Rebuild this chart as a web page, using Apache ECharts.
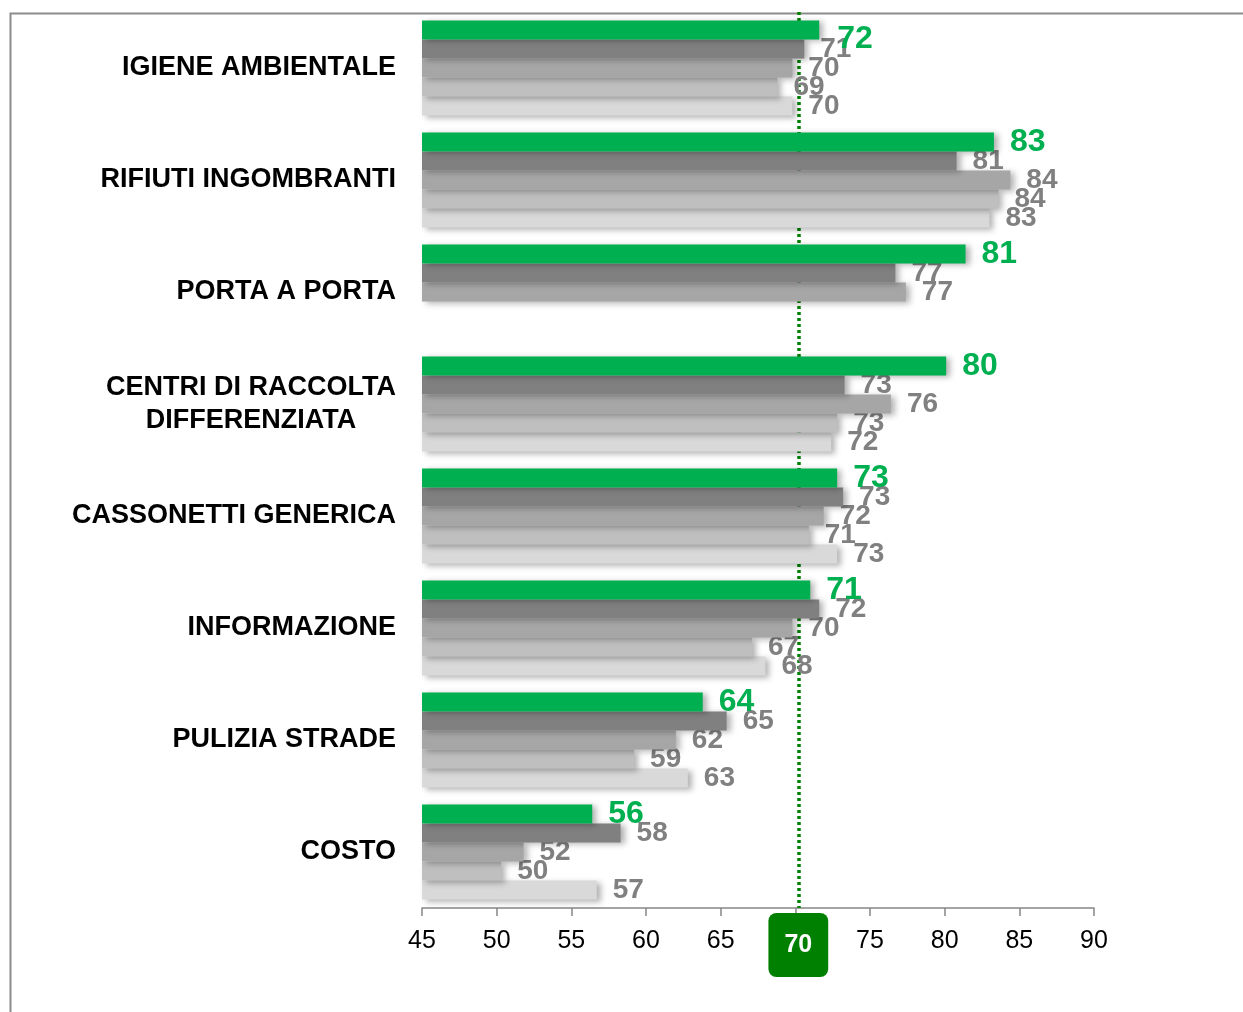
<!DOCTYPE html>
<html>
<head>
<meta charset="utf-8">
<script src="https://cdn.jsdelivr.net/npm/echarts@6/dist/echarts.min.js"></script>
<style>
  html, body { margin: 0; padding: 0; background: #ffffff; }
  #chart { width: 1243px; height: 1012px; }
</style>
</head>
<body>
<div id="chart"></div>
<script>
// ---- data ----
const categories = [
  'IGIENE AMBIENTALE',
  'RIFIUTI INGOMBRANTI',
  'PORTA A PORTA',
  'CENTRI DI RACCOLTA\nDIFFERENZIATA',
  'CASSONETTI GENERICA',
  'INFORMAZIONE',
  'PULIZIA STRADE',
  'COSTO'
];
const seriesNames = ['S1', 'S2', 'S3', 'S4', 'S5'];
const values1 = [71.6, 83.3, 81.4, 80.1, 72.8, 71.0, 63.8, 56.4];   // green
const values2 = [70.6, 80.8, 76.7, 73.3, 73.2, 71.6, 65.4, 58.3];   // dark gray
const values3 = [69.8, 84.4, 77.4, 76.4, 71.9, 69.8, 62.0, 51.8];   // gray
const values4 = [68.8, 83.6, null, 72.8, 70.9, 67.1, 59.2, 50.3];   // light gray
const values5 = [69.8, 83.0, null, 72.4, 72.8, 68.0, 62.8, 56.7];   // lightest gray
const xTicks = { min: 45, max: 90, interval: 5 };
const refValue = 70.2;
const refLabel = '70';

const FONT = '"Liberation Sans", Arial, sans-serif';
const colors = ['#00B050', '#808080', '#A6A6A6', '#BFBFBF', '#D9D9D9'];
const allValues = [values1, values2, values3, values4, values5];

const chart = echarts.init(document.getElementById('chart'), null, { renderer: 'canvas' });

const series = allValues.map((vals, i) => ({
  name: seriesNames[i],
  type: 'bar',
  // the first green label sits slightly lower in the original
  data: vals.map((v, j) => (i === 0 && j === 0) ? { value: v, label: { offset: [2, 9] } } : v),
  barGap: '0%',
  barCategoryGap: '15%',
  itemStyle: {
    color: colors[i],
    shadowColor: 'rgba(0,0,0,0.3)',
    shadowBlur: 6,
    shadowOffsetX: 4,
    shadowOffsetY: 2
  },
  label: {
    show: true,
    position: 'right',
    distance: 16,
    formatter: p => (p.value == null ? '' : String(Math.round(p.value))),
    color: i === 0 ? '#00B050' : '#808080',
    fontFamily: FONT,
    fontWeight: 'bold',
    fontSize: i === 0 ? 32 : 28
  },
  z: 10 - i
}));

series[0].markLine = {
  silent: true,
  symbol: 'none',
  lineStyle: { color: '#008000', type: [3, 3], width: 3.5 },
  label: {
    show: true,
    position: 'end',
    formatter: refLabel,
    color: '#ffffff',
    fontFamily: FONT,
    fontWeight: 'bold',
    fontSize: 25,
    backgroundColor: '#008000',
    borderRadius: 8,
    padding: [20, 16, 19, 16],
    distance: 5
  },
  data: [{ xAxis: refValue }]
};

chart.setOption({
  animation: false,
  backgroundColor: '#ffffff',
  grid: { left: 422, right: 149, top: 12, bottom: 104, containLabel: false },
  xAxis: {
    type: 'value',
    min: xTicks.min,
    max: xTicks.max,
    interval: xTicks.interval,
    axisLine: { show: true, lineStyle: { color: '#868686', width: 1.5 } },
    axisTick: { show: true, length: 8, lineStyle: { color: '#868686', width: 1.5 } },
    axisLabel: { color: '#000000', fontFamily: FONT, fontSize: 25, margin: 21 },
    splitLine: { show: false }
  },
  yAxis: {
    type: 'category',
    data: categories,
    inverse: true,
    axisLine: { show: false },
    axisTick: { show: false },
    axisLabel: {
      margin: 26,
      align: 'right',
      color: '#000000',
      fontFamily: FONT,
      fontWeight: 'bold',
      fontSize: 27,
      lineHeight: 33,
      formatter: v => v.split('\n').map(s => '{c|' + s + '}').join('\n'),
      rich: {
        c: { align: 'center', fontFamily: FONT, fontWeight: 'bold', fontSize: 27, lineHeight: 33, color: '#000000' }
      }
    }
  },
  graphic: [{
    type: 'rect',
    left: 8, top: 11,
    shape: { x: 0, y: 0, width: 1300, height: 1100 },
    style: { fill: 'none', stroke: '#8c8c8c', lineWidth: 2 },
    silent: true,
    z: -10
  }],
  series: series
});
</script>
</body>
</html>
